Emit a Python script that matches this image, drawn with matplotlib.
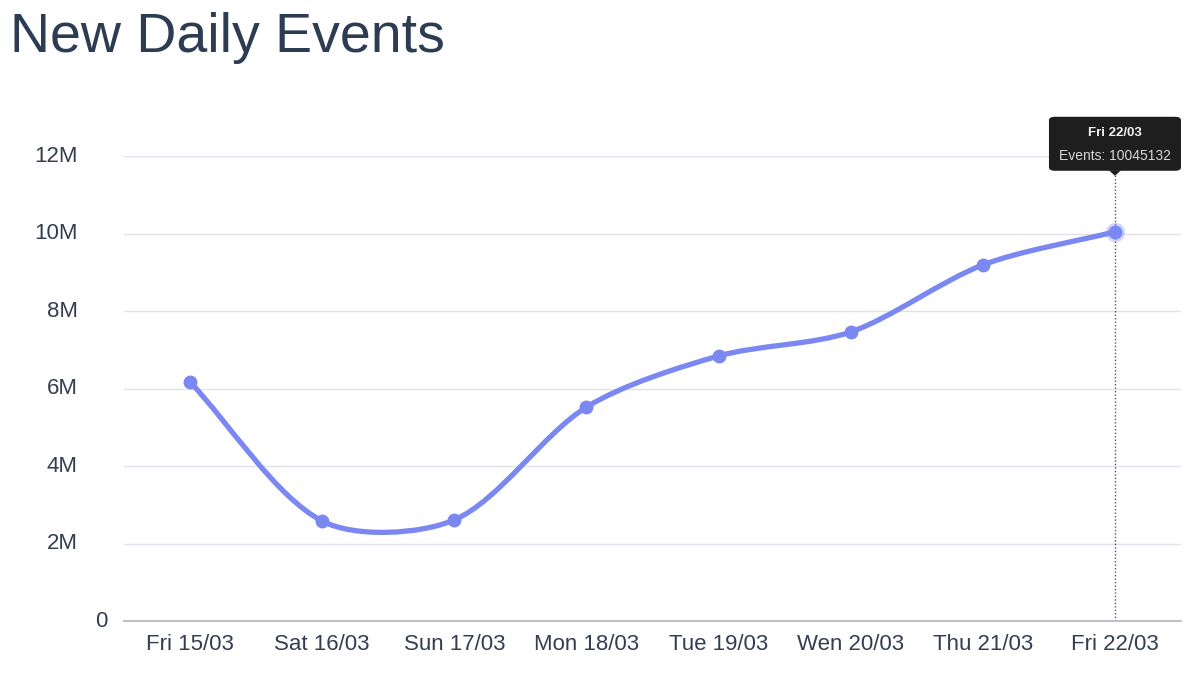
"""New Daily Events line chart (Chart.js-style smoothed line with tooltip)."""
import numpy as np
import matplotlib.pyplot as plt
from matplotlib.path import Path
from matplotlib.patches import PathPatch, FancyBboxPatch, Polygon
from matplotlib.transforms import blended_transform_factory

plt.rcParams["font.family"] = ["Liberation Sans", "DejaVu Sans"]

days = ["Fri 15/03", "Sat 16/03", "Sun 17/03", "Mon 18/03",
        "Tue 19/03", "Wen 20/03", "Thu 21/03", "Fri 22/03"]
events = [6170000, 2580000, 2610000, 5520000, 6840000, 7460000, 9190000, 10045132]
y_ticks = [0, 2e6, 4e6, 6e6, 8e6, 10e6, 12e6]
y_labels = ["0", "2M", "4M", "6M", "8M", "10M", "12M"]

LINE = "#7c88f2"
TEXT = "#333e50"
TITLE = "#2c3c52"


def chartjs_path(ax, xs, ys, tension=0.4):
    """Bezier path built the way Chart.js computes its control points."""
    pts = ax.transData.transform(np.column_stack([xs, ys]))
    n = len(pts)
    prev_cp, next_cp = [], []
    for i in range(n):
        p0, p1, p2 = pts[max(i - 1, 0)], pts[i], pts[min(i + 1, n - 1)]
        d01 = np.hypot(*(p1 - p0))
        d12 = np.hypot(*(p2 - p1))
        tot = d01 + d12
        s01 = d01 / tot if tot else 0
        s12 = d12 / tot if tot else 0
        prev_cp.append(p1 - tension * s01 * (p2 - p0))
        next_cp.append(p1 + tension * s12 * (p2 - p0))
    verts = [pts[0]]
    codes = [Path.MOVETO]
    for i in range(1, n):
        verts += [next_cp[i - 1], prev_cp[i], pts[i]]
        codes += [Path.CURVE4] * 3
    verts = ax.transData.inverted().transform(np.array(verts))
    return Path(verts, codes)


fig = plt.figure(figsize=(12, 6.74), dpi=100)
ax = fig.add_axes([0.1033, 0.0786, 0.8809, 0.6899])
x = np.arange(len(days))
ax.set_xlim(-0.5, len(days) - 0.5)
ax.set_ylim(0, 12e6)

for s in ["top", "right", "left"]:
    ax.spines[s].set_visible(False)
ax.spines["bottom"].set_color("#b6b9c0")
ax.spines["bottom"].set_linewidth(1.3)

ax.set_yticks(y_ticks)
ax.yaxis.grid(True, color="#e2e3ea", linewidth=1)
ax.set_axisbelow(True)
ax.tick_params(axis="y", length=0, labelleft=False)
ax.tick_params(axis="x", length=0, pad=9, labelsize=16, labelcolor=TEXT)
ax.set_xticks(x)
ax.set_xticklabels(days)

# y labels drawn by hand so "0" can sit closer to the axis like the original
lab_tr = blended_transform_factory(ax.transAxes, ax.transData)
for val, lab in zip(y_ticks, y_labels):
    xpos = -0.016 if lab == "0" else -0.0435
    ax.text(xpos, val, lab, transform=lab_tr, ha="right", va="center",
            fontsize=16, color=TEXT)

path = chartjs_path(ax, x, events, tension=0.3)
ax.add_patch(PathPatch(path, facecolor="none", edgecolor=LINE, lw=3.8,
                       capstyle="round", joinstyle="round", zorder=3))
ax.plot(x, events, "o", color=LINE, ms=9, zorder=4)
ax.plot(x[-1], events[-1], "o", color=LINE, ms=14, alpha=0.35, zorder=4,
        markeredgewidth=0)

# tooltip on the last point
px, py = ax.transData.transform((x[-1], events[-1]))
tip_y = py + 57
to_fig = fig.transFigure.inverted()


def fpt(dx, dy):
    return to_fig.transform((px + dx, py + dy))


ax.vlines(x[-1], 0, ax.transData.inverted().transform((px, tip_y))[1],
          colors="#555555", linestyles=(0, (1, 1.5)), lw=1, zorder=2)
bx0, by0 = fpt(-66, 61)
bx1, by1 = fpt(66, 115)
fig.patches.append(FancyBboxPatch((bx0, by0), bx1 - bx0, by1 - by0,
                                  boxstyle="round,pad=0,rounding_size=0.005",
                                  transform=fig.transFigure, facecolor="#1e1e1e",
                                  edgecolor="none", zorder=10))
fig.patches.append(Polygon([fpt(-6, 61.5), fpt(6, 61.5), fpt(0, 56)],
                           closed=True, transform=fig.transFigure,
                           facecolor="#1e1e1e", edgecolor="none", zorder=10))
tx, ty = fpt(0, 99)
fig.text(tx, ty, days[-1], ha="center", va="center", fontsize=9.5,
         fontweight="bold", color="#f2f2f2", zorder=11)
tx, ty = fpt(0, 76)
fig.text(tx, ty, f"Events: {events[-1]}", ha="center", va="center",
         fontsize=10, color="#d8d8d8", zorder=11)

fig.text(10 / 1200, 1 - 52 / 674, "New Daily Events", fontsize=40,
         color=TITLE, va="baseline", ha="left")

fig.savefig("out.png", dpi=100)
